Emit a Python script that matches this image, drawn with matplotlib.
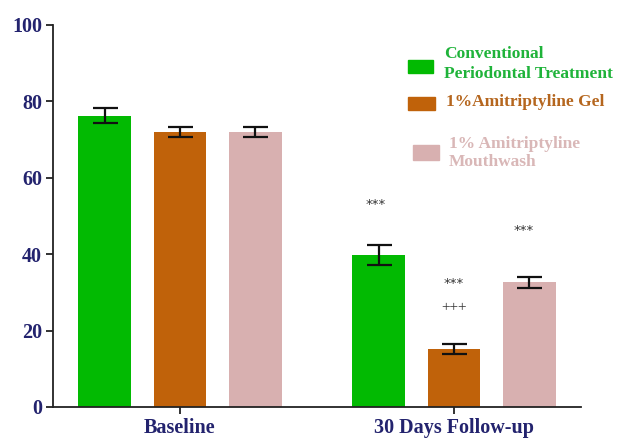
import matplotlib
matplotlib.use("Agg")
import matplotlib.pyplot as plt
from matplotlib.patches import Rectangle

# Data
groups = ["Baseline", "30 Days Follow-up"]
series = ["Conventional\nPeriodontal Treatment", "1%Amitriptyline Gel", "1% Amitriptyline\nMouthwash"]
means = {
    "Conventional\nPeriodontal Treatment": [76.3, 39.9],
    "1%Amitriptyline Gel": [71.9, 15.2],
    "1% Amitriptyline\nMouthwash": [72.0, 32.6],
}
errors = {
    "Conventional\nPeriodontal Treatment": [1.9, 2.6],
    "1%Amitriptyline Gel": [1.3, 1.4],
    "1% Amitriptyline\nMouthwash": [1.3, 1.4],
}
yticks = [0, 20, 40, 60, 80, 100]

bar_colors = ["#02ba02", "#c0620a", "#d8b0b0"]
text_colors = ["#1fb33a", "#b5661e", "#d9b7b7"]
navy = "#23236e"
serif = ["Liberation Serif", "DejaVu Serif"]

fig = plt.figure(figsize=(6.26, 4.38), dpi=100)
ax = fig.add_axes([53 / 626, 1 - 407 / 438, (581 - 53) / 626, (407 - 25) / 438])

offsets = [-0.2755, 0.0, 0.2755]
width = 0.193
for i, name in enumerate(series):
    xs = [g + offsets[i] for g in range(len(groups))]
    ax.bar(xs, means[name], width=width, color=bar_colors[i], edgecolor="none", zorder=2)
    ax.errorbar(xs, means[name], yerr=errors[name], fmt="none", ecolor="#111111",
                elinewidth=1.6, capsize=9, capthick=1.6, zorder=3)

# Significance markers
mark_color = "#333333"
ax.text(1 + offsets[0] - 0.01, 52.9, "***", ha="center", va="center", fontsize=9.5, color=mark_color)
ax.text(1 + offsets[1], 32.2, "***", ha="center", va="center", fontsize=9.5, color=mark_color)
ax.text(1 + offsets[1], 25.9, "+++", ha="center", va="center", fontsize=11, color=mark_color,
        family=serif)
ax.text(1 + offsets[2] - 0.02, 46.1, "***", ha="center", va="center", fontsize=9.5, color=mark_color)

ax.set_xlim(-0.4635, 1.4635)
ax.set_ylim(0, 100)
ax.set_yticks(yticks)
ax.set_xticks(range(len(groups)))
ax.set_xticklabels(groups)
for lab in ax.get_yticklabels():
    lab.set_fontfamily(serif)
    lab.set_fontweight("bold")
    lab.set_fontsize(14.5)
    lab.set_color(navy)
for lab in ax.get_xticklabels():
    lab.set_fontfamily(serif)
    lab.set_fontweight("bold")
    lab.set_fontsize(14.5)
    lab.set_color(navy)

for s in ["top", "right"]:
    ax.spines[s].set_visible(False)
for s in ["left", "bottom"]:
    ax.spines[s].set_color("#222222")
    ax.spines[s].set_linewidth(1.3)
ax.tick_params(axis="both", direction="out", length=5, width=1.3, color="#222222")
ax.tick_params(axis="y", pad=3)
ax.tick_params(axis="x", pad=3)

# Legend drawn as patches and coloured labels
def fx(px):
    return px / 626

def fy(py):
    return 1 - py / 438

legend_items = [
    (408, 60, 433, 73, 444, 64, "Conventional\nPeriodontal Treatment"),
    (408, 97, 435, 110, 446, 102, "1%Amitriptyline Gel"),
    (413, 145, 439, 160, 449, 153, "1% Amitriptyline\nMouthwash"),
]
for i, (x0, y0, x1, y1, tx, ty, label) in enumerate(legend_items):
    fig.patches.append(Rectangle((fx(x0), fy(y1)), fx(x1) - fx(x0), fy(y0) - fy(y1),
                                 transform=fig.transFigure, color=bar_colors[i], figure=fig))
    fig.text(fx(tx), fy(ty), label, ha="left", va="center", fontsize=12.5, fontweight="bold",
             family=serif, color=text_colors[i], linespacing=1.25)

fig.savefig("out.png", dpi=100)
